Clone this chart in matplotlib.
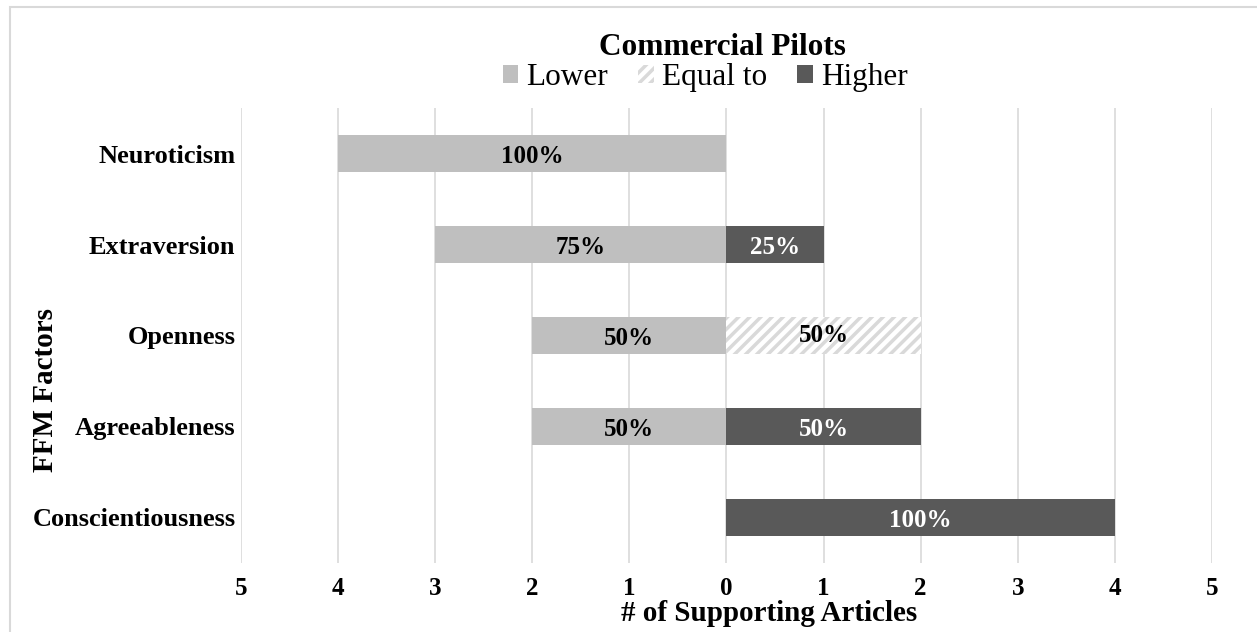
import matplotlib
matplotlib.use("Agg")
import matplotlib.pyplot as plt
from matplotlib.patches import Patch, Rectangle

plt.rcParams['font.family'] = ['Liberation Serif', 'DejaVu Serif']
plt.rcParams['hatch.linewidth'] = 2.5

categories = ["Neuroticism", "Extraversion", "Openness", "Agreeableness", "Conscientiousness"]
lower = [4, 3, 2, 2, 0]
equal_to = [0, 0, 2, 0, 0]
higher = [0, 1, 0, 2, 4]
lower_pct = ["100%", "75%", "50%", "50%", ""]
equal_pct = ["", "", "50%", "", ""]
higher_pct = ["", "25%", "", "50%", "100%"]
xticks = [-5, -4, -3, -2, -1, 0, 1, 2, 3, 4, 5]
xtick_labels = ["5", "4", "3", "2", "1", "0", "1", "2", "3", "4", "5"]

c_lower = "#BFBFBF"
c_higher = "#595959"
c_hatch = "#D9D9D9"

fig = plt.figure(figsize=(12.57, 6.32), dpi=100)
ax = fig.add_axes([0.1917, 0.1092, 0.7725, 0.7199])

ypos = list(range(len(categories)))
h = 0.4
ax.barh(ypos, [-v for v in lower], height=h, color=c_lower, zorder=3)
ax.barh(ypos, equal_to, height=h, color="white", edgecolor=c_hatch, hatch="///", linewidth=0, zorder=3)
ax.barh(ypos, higher, height=h, left=equal_to, color=c_higher, zorder=3)

lab_fs = 18
for i in ypos:
    if lower[i]:
        ax.text(-lower[i] / 2, i + 0.03, lower_pct[i], ha="center", va="center",
                fontsize=lab_fs, fontweight="bold", color="black", zorder=4)
    if equal_to[i]:
        ax.text(equal_to[i] / 2, i + 0.0, equal_pct[i], ha="center", va="center",
                fontsize=lab_fs, fontweight="bold", color="black", zorder=4)
    if higher[i]:
        ax.text(equal_to[i] + higher[i] / 2, i + 0.03, higher_pct[i], ha="center", va="center",
                fontsize=lab_fs, fontweight="bold", color="white", zorder=4)

ax.set_xlim(-5.0, 5.0)
ax.set_ylim(4.5, -0.5)
ax.set_xticks(xticks)
ax.set_xticklabels(xtick_labels, fontsize=18, fontweight="bold")
ax.set_yticks(ypos)
ax.set_yticklabels(categories, fontsize=19, fontweight="bold")
ax.tick_params(axis="x", length=0, pad=10)
ax.tick_params(axis="y", length=0, pad=4)
ax.xaxis.grid(True, color="#D9D9D9", linewidth=1.2, zorder=0)
ax.set_axisbelow(True)
for s in ax.spines.values():
    s.set_visible(False)

fig.text(0.612, 0.030, "# of Supporting Articles", ha="center", va="center",
         fontsize=21, fontweight="bold")
fig.text(0.036, 0.383, "FFM Factors", rotation=90, ha="center", va="center",
         fontsize=21, fontweight="bold")

fig.text(0.575, 0.913, "Commercial Pilots", ha="center", va="baseline",
         fontsize=22.5, fontweight="bold")
handles = [Patch(facecolor=c_lower, edgecolor="none"),
           Patch(facecolor="white", edgecolor=c_hatch, hatch="///", linewidth=0),
           Patch(facecolor=c_higher, edgecolor="none")]
fig.legend(handles, ["Lower", "Equal to", "Higher"], loc="center", bbox_to_anchor=(0.561, 0.877),
           ncol=3, frameon=False, fontsize=22.5, handlelength=0.5, handleheight=0.5,
           handletextpad=0.26, columnspacing=0.96, borderaxespad=0, borderpad=0)

fig.patches.append(Rectangle((0.008, -0.05), 1.1, 1.039, transform=fig.transFigure,
                             fill=False, edgecolor="#D9D9D9", linewidth=1.5))

fig.savefig("out.png", dpi=100, facecolor="white")
